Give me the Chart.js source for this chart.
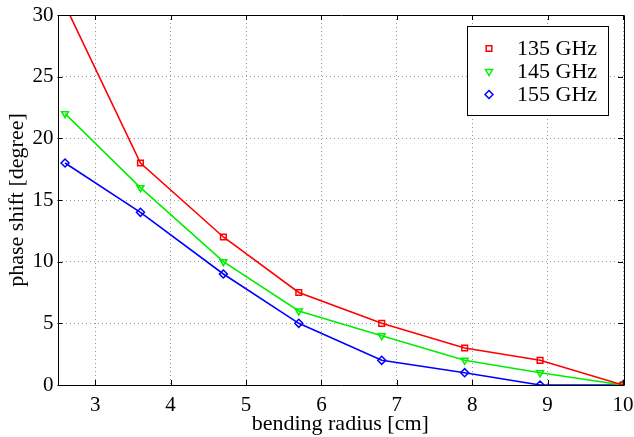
<!DOCTYPE html>
<html>
<head>
<meta charset="utf-8">
<script src="https://cdn.jsdelivr.net/npm/chart.js@4.4.1/dist/chart.umd.min.js"></script>
<style>
  html, body { margin: 0; padding: 0; background: #fff; }
  #wrap { width: 634px; height: 437px; }
</style>
</head>
<body>
<div id="wrap"><canvas id="phaseChart" width="634" height="437"></canvas></div>
<script>
// bending radius [cm]
const radius = [2.6, 3.6, 4.7, 5.7, 6.8, 7.9, 8.9, 10];
// phase shift [degree]
const shift135 = [30.8, 18, 12, 7.5, 5, 3, 2, 0];
const shift145 = [22, 16, 10, 6, 4, 2, 1, 0];
const shift155 = [18, 14, 9, 5, 2, 1, 0, 0];
const xTicks = [3, 4, 5, 6, 7, 8, 9, 10];
const yTicks = [0, 5, 10, 15, 20, 25, 30];
const seriesNames = ['135 GHz', '145 GHz', '155 GHz'];

const serif = "'Liberation Serif', 'Times New Roman', serif";

function pts(ys) {
  return radius.map((x, i) => ({ x: x, y: ys[i] }));
}

function series(label, ys, color, style, rot) {
  return {
    label: label,
    data: pts(ys),
    borderColor: color,
    backgroundColor: 'transparent',
    borderWidth: 1.6,
    pointStyle: style,
    pointRotation: rot,
    pointRadius: 4,
    pointBorderWidth: 1.5,
    pointBorderColor: color,
    pointBackgroundColor: 'transparent',
    tension: 0
  };
}

// frame, inner ticks and legend box like matlab
const frame = {
  id: 'frame',
  afterDraw(chart) {
    const ctx = chart.ctx;
    const a = chart.chartArea;
    const xs = chart.scales.x, ys = chart.scales.y;
    ctx.save();
    ctx.strokeStyle = '#000';
    ctx.lineWidth = 1;
    ctx.beginPath();
    ctx.rect(Math.round(a.left) + 0.5, Math.round(a.top) + 0.5,
      Math.round(a.right - a.left), Math.round(a.bottom - a.top));
    ctx.stroke();
    ctx.beginPath();
    xTicks.forEach(v => {
      const px = Math.round(xs.getPixelForValue(v)) + 0.5;
      ctx.moveTo(px, a.bottom); ctx.lineTo(px, a.bottom - 5);
      ctx.moveTo(px, a.top); ctx.lineTo(px, a.top + 5);
    });
    yTicks.forEach(v => {
      const py = Math.round(ys.getPixelForValue(v)) + 0.5;
      ctx.moveTo(a.left, py); ctx.lineTo(a.left + 5, py);
      ctx.moveTo(a.right, py); ctx.lineTo(a.right - 5, py);
    });
    ctx.stroke();

    // legend
    const bx = 467.5, by = 26.5, bw = 141, bh = 89;
    ctx.fillStyle = '#fff';
    ctx.fillRect(bx, by, bw, bh);
    ctx.strokeRect(bx, by, bw, bh);
    ctx.font = '22px ' + serif;
    ctx.textBaseline = 'middle';
    ctx.textAlign = 'left';
    chart.data.datasets.forEach((ds, i) => {
      const cy = by + 22 + i * 23;
      ctx.strokeStyle = ds.borderColor;
      ctx.fillStyle = 'rgba(0,0,0,0)';
      ctx.lineWidth = 1.5;
      Chart.helpers.drawPoint(ctx, {
        pointStyle: ds.pointStyle,
        rotation: ds.pointRotation,
        radius: 4,
        borderWidth: 1.5
      }, 489, cy);
      ctx.fillStyle = '#000';
      ctx.fillText(seriesNames[i], 517, cy + 1);
    });
    ctx.restore();
  }
};

const phaseChart = document.getElementById('phaseChart');

new Chart(phaseChart, {
  type: 'line',
  data: {
    datasets: [
      series(seriesNames[0], shift135, '#ff0000', 'rect', 0),
      series(seriesNames[1], shift145, '#00ee00', 'triangle', 180),
      series(seriesNames[2], shift155, '#0000ff', 'rectRot', 0)
    ]
  },
  options: {
    responsive: false,
    animation: false,
    layout: { padding: { top: 15, right: 11, left: 0, bottom: 0 } },
    plugins: { legend: { display: false }, tooltip: { enabled: false } },
    scales: {
      x: {
        type: 'linear',
        min: 2.5,
        max: 10,
        afterBuildTicks: s => { s.ticks = xTicks.map(v => ({ value: v })); },
        afterFit: s => { s.height = 52; s.paddingRight = 0; s.paddingLeft = 0; },
        border: { display: false, dash: [1, 3] },
        grid: { color: '#999', lineWidth: 1, drawTicks: false },
        ticks: { color: '#000', padding: 8, font: { family: serif, size: 21 } },
        title: {
          display: true,
          text: 'bending radius [cm]',
          color: '#000',
          padding: { top: 0, bottom: 0 },
          font: { family: serif, size: 22 }
        }
      },
      y: {
        min: 0,
        max: 30,
        afterBuildTicks: s => { s.ticks = yTicks.map(v => ({ value: v })); },
        afterFit: s => { s.width = 57.5; s.paddingTop = 0; s.paddingBottom = 0; },
        border: { display: false, dash: [1, 3] },
        grid: { color: '#999', lineWidth: 1, drawTicks: false },
        ticks: { color: '#000', padding: 4, font: { family: serif, size: 21 } },
        title: {
          display: true,
          text: 'phase shift [degree]',
          color: '#000',
          padding: { top: 4, bottom: 0 },
          font: { family: serif, size: 22 }
        }
      }
    }
  },
  plugins: [frame]
});
</script>
</body>
</html>
